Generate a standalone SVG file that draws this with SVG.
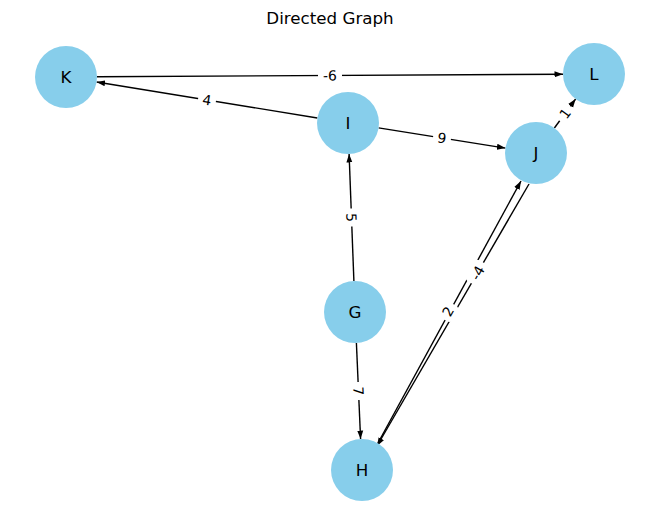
<svg xmlns="http://www.w3.org/2000/svg" width="660" height="522" viewBox="0 0 660 522">
<style>
.node circle{fill:#87CEEB;}
.node text{font-family:"DejaVu Sans",sans-serif;font-size:16.7px;text-anchor:middle;dominant-baseline:central;fill:#000;}
.edge{stroke:#000;stroke-width:1.4;fill:none;marker-end:url(#arr);}
.lbl rect{fill:#fff;}
.lbl text{font-family:"DejaVu Sans",sans-serif;font-size:13.9px;text-anchor:middle;dominant-baseline:central;fill:#000;}
.title{font-family:"DejaVu Sans",sans-serif;font-size:16.7px;text-anchor:middle;fill:#000;}
</style>
<defs>
<marker id="arr" markerUnits="userSpaceOnUse" markerWidth="9" markerHeight="7" refX="8.5" refY="3.5" orient="auto">
<path d="M0,0.5 L8.5,3.5 L0,6.5 z" fill="#000"/>
</marker>
</defs>
<rect width="660" height="522" fill="#fff"/>
<text class="title" x="330" y="24">Directed Graph</text>
<g id="edges">
<line class="edge" x1="97" y1="76.8" x2="563" y2="74.2"/>
<line class="edge" x1="317.4" y1="118" x2="96.6" y2="82"/>
<line class="edge" x1="378.6" y1="127.9" x2="505.4" y2="148.1"/>
<line class="edge" x1="554.4" y1="128" x2="575.6" y2="99"/>
<line class="edge" x1="353.9" y1="281" x2="349.1" y2="154"/>
<line class="edge" x1="356.4" y1="343" x2="360.6" y2="439"/>
<line class="edge" x1="378" y1="443" x2="521" y2="181"/>
<line class="edge" x1="529" y1="184" x2="377" y2="446"/>
</g>
<g id="edge-labels">
<g class="lbl" transform="translate(330,75.5) rotate(-0.33)"><rect x="-12" y="-11" width="24" height="22" rx="4"/><text>-6</text></g>
<g class="lbl" transform="translate(207,100) rotate(9.3)"><rect x="-9" y="-11" width="18" height="22" rx="4"/><text>4</text></g>
<g class="lbl" transform="translate(442,138) rotate(9.07)"><rect x="-9" y="-11" width="18" height="22" rx="4"/><text>9</text></g>
<g class="lbl" transform="translate(565,113.5) rotate(-53.7)"><rect x="-9" y="-8" width="18" height="16" rx="4"/><text>1</text></g>
<g class="lbl" transform="translate(351.5,217.5) rotate(88)"><rect x="-9" y="-11" width="18" height="22" rx="4"/><text>5</text></g>
<g class="lbl" transform="translate(358.5,391) rotate(87.5)"><rect x="-9" y="-11" width="18" height="22" rx="4"/><text>7</text></g>
<g class="lbl" transform="translate(448,311.5) rotate(-61.4)"><rect x="-9" y="-8" width="18" height="16" rx="4"/><text>2</text></g>
<g class="lbl" transform="translate(477.5,273) rotate(-61.4)"><rect x="-12" y="-8" width="24" height="16" rx="4"/><text>-4</text></g>
</g>
<g id="node-K" class="node"><circle cx="66" cy="77" r="31"/><text x="66" y="77">K</text></g>
<g id="node-L" class="node"><circle cx="594" cy="74" r="31"/><text x="594" y="74">L</text></g>
<g id="node-I" class="node"><circle cx="348" cy="123" r="31"/><text x="348" y="123">I</text></g>
<g id="node-J" class="node"><circle cx="536" cy="153" r="31"/><text x="536" y="153">J</text></g>
<g id="node-G" class="node"><circle cx="355" cy="312" r="31"/><text x="355" y="312">G</text></g>
<g id="node-H" class="node"><circle cx="362" cy="470" r="31"/><text x="362" y="470">H</text></g>
</svg>
